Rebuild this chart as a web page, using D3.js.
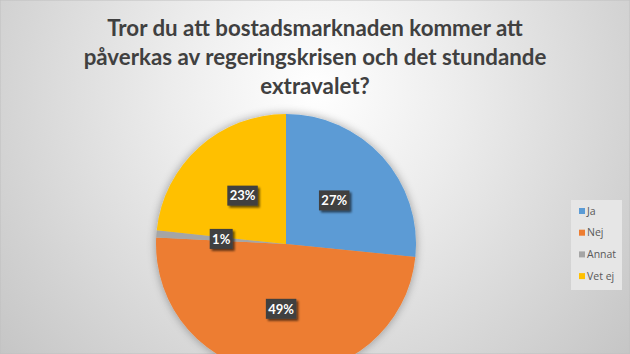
<!DOCTYPE html>
<html><head><meta charset="utf-8">
<script src="https://cdn.jsdelivr.net/npm/d3@7"></script>
<style>html,body{margin:0;padding:0;overflow:hidden;background:#fff}</style>
</head><body>
<svg id="c" width="630" height="354"></svg>
<script>
const titleLines = ["Tror du att bostadsmarknaden kommer att", "påverkas av regeringskrisen och det stundande", "extravalet?"];
const categories = ["Ja", "Nej", "Annat", "Vet ej"];
const values = [26.6, 49.2, 0.9, 23.3];
const labels = ["27%", "49%", "1%", "23%"];
const colors = ["#5b9bd5", "#ed7d31", "#a5a5a5", "#ffc000"];

const W = 630, H = 354;
const svg = d3.select("#c");
const defs = svg.append("defs");
const rg = defs.append("radialGradient").attr("id","bg").attr("gradientUnits","userSpaceOnUse")
  .attr("cx",315).attr("cy",90).attr("r",420);
rg.append("stop").attr("offset","0").attr("stop-color","#ffffff");
rg.append("stop").attr("offset","0.35").attr("stop-color","#ececec");
rg.append("stop").attr("offset","1").attr("stop-color","#c4c4c4");
svg.append("rect").attr("width",W).attr("height",H).attr("fill","url(#bg)")
  .attr("stroke","#c0c0c0").attr("stroke-width",1);

const sh = defs.append("filter").attr("id","psh").attr("x","-20%").attr("y","-20%").attr("width","140%").attr("height","140%");
sh.append("feGaussianBlur").attr("in","SourceAlpha").attr("stdDeviation",5).attr("result","b");
sh.append("feOffset").attr("in","b").attr("dx",0).attr("dy",0).attr("result","o");
sh.append("feComponentTransfer").attr("in","o").attr("result","o2").append("feFuncA").attr("type","linear").attr("slope",0.35);
const m = sh.append("feMerge"); m.append("feMergeNode").attr("in","o2"); m.append("feMergeNode").attr("in","SourceGraphic");

const lsh = defs.append("filter").attr("id","lsh").attr("x","-30%").attr("y","-30%").attr("width","160%").attr("height","160%");
lsh.append("feGaussianBlur").attr("in","SourceAlpha").attr("stdDeviation",1.2).attr("result","b");
lsh.append("feOffset").attr("in","b").attr("dx",2).attr("dy",2).attr("result","o");
lsh.append("feComponentTransfer").attr("in","o").attr("result","o2").append("feFuncA").attr("type","linear").attr("slope",0.6);
const m2 = lsh.append("feMerge"); m2.append("feMergeNode").attr("in","o2"); m2.append("feMergeNode").attr("in","SourceGraphic");

// title
const tg = svg.append("g");
tg.selectAll("text").data(titleLines).join("text")
  .attr("x",315).attr("y",(d,i)=>36+i*29)
  .attr("text-anchor","middle")
  .attr("font-family","Lato, 'Open Sans', sans-serif").attr("font-weight","bold").attr("font-size",22.3)
  .attr("fill","#404040").text(d=>d);

// pie
const cx = 286, cy = 244, R = 130;
const pie = d3.pie().sort(null).value(d=>d)(values);
const arc = d3.arc().innerRadius(0).outerRadius(R);
const lArc = d3.arc().innerRadius(65).outerRadius(65);
const pg = svg.append("g").attr("transform",`translate(${cx},${cy})`);
pg.append("g").attr("filter","url(#psh)").selectAll("path").data(pie).join("path")
  .attr("d",arc).attr("fill",(d,i)=>colors[i]);

const lg = pg.selectAll("g.lab").data(pie).join("g").attr("class","lab")
  .attr("transform",d=>{const c=lArc.centroid(d);return `translate(${c[0]},${c[1]})`;});
lg.each(function(d,i){
  const g = d3.select(this);
  const w = labels[i].length*7.5+8, h = 20;
  g.append("rect").attr("x",-w/2).attr("y",-h/2).attr("width",w).attr("height",h)
    .attr("fill","#404040").attr("filter","url(#lsh)");
  g.append("text").attr("text-anchor","middle").attr("dy","0.36em")
    .attr("font-family","Lato, 'Open Sans', sans-serif").attr("font-weight","bold").attr("font-size",13)
    .attr("fill","#ffffff").text(labels[i]);
});

// legend
const leg = svg.append("g");
leg.append("rect").attr("x",571).attr("y",200).attr("width",51).attr("height",90).attr("fill","#e6e6e6");
const li = leg.selectAll("g.li").data(categories).join("g").attr("class","li")
  .attr("transform",(d,i)=>`translate(579,${211+i*21.7})`);
li.append("rect").attr("x",0).attr("y",-3).attr("width",6).attr("height",6).attr("fill",(d,i)=>colors[i]);
li.append("text").attr("x",8).attr("dy","0.35em")
  .attr("font-family","'Open Sans', sans-serif").attr("font-size",10.5)
  .attr("fill","#595959").text(d=>d);
</script>
</body></html>
